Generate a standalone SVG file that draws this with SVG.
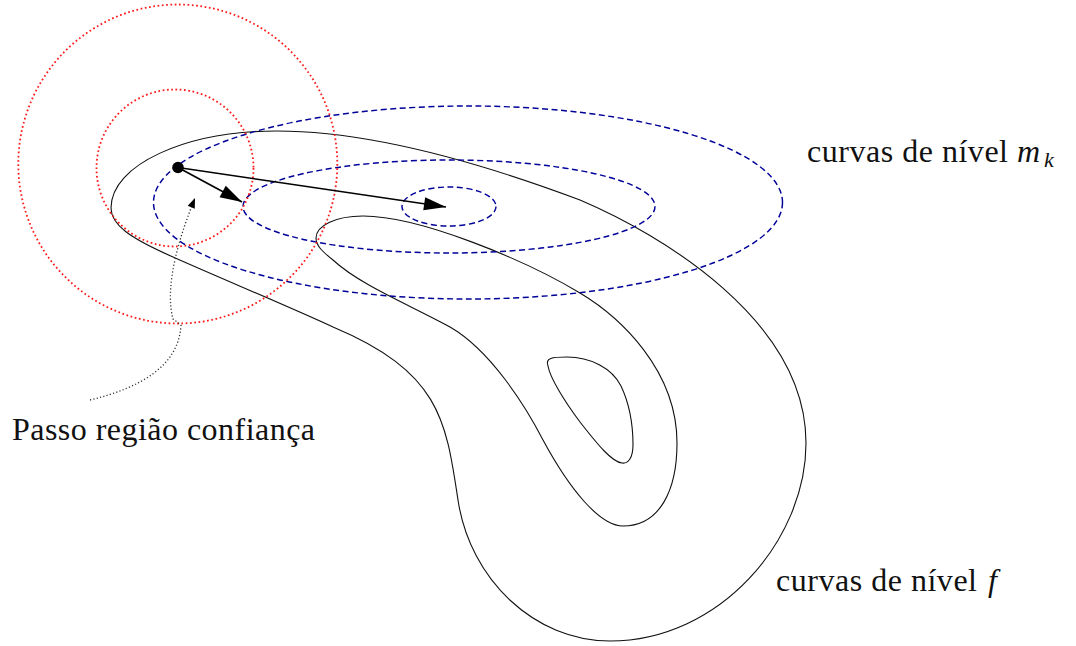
<svg xmlns="http://www.w3.org/2000/svg" width="1076" height="646" viewBox="0 0 1076 646">
  <style>
    .contour { fill: none; stroke: #111; stroke-width: 1.1; }
    .model { fill: none; stroke: #000099; stroke-width: 1.45; stroke-dasharray: 6 3.5; }
    .trust { fill: none; stroke: #ff1a1a; stroke-width: 1.8; stroke-dasharray: 1.7 2.6; }
    .step { fill: none; stroke: #000; stroke-width: 1.6; }
    .leader { fill: none; stroke: #333; stroke-width: 1.3; stroke-dasharray: 1.2 2.2; }
    .label { font-family: "Liberation Serif", "Times New Roman", serif; font-size: 32px; fill: #111; }
    .math { font-family: "Liberation Serif", "Times New Roman", serif; font-style: italic; fill: #111; }
  </style>
  <defs>
    <marker id="head" viewBox="-23 -7 24 14" refX="0" refY="0" markerWidth="24" markerHeight="14" orient="auto" markerUnits="userSpaceOnUse">
      <path d="M0,0 L-22,-6.5 L-22,6.5 Z" fill="#000"/>
    </marker>
    <marker id="smallhead" viewBox="-11 -5 12 10" refX="0" refY="0" markerWidth="12" markerHeight="10" orient="auto" markerUnits="userSpaceOnUse">
      <path d="M0,0 L-10,-3.8 L-10,3.8 Z" fill="#000"/>
    </marker>
  </defs>
  <rect x="0" y="0" width="1076" height="646" fill="#fff"/>

  <g id="contours-f">
    <path class="contour" d="M 111,208 C 111,165 185,131 277,131 C 380,131 500,170 580,200 C 660,234 806,320 806,443 C 806,540 720,641 610,641 C 535,641 470,580 458,500 C 446,420 440,372 333,327 C 290,307 220,278 173,257 C 130,238 111,225 111,208 Z"/>
    <path class="contour" d="M 316,238 C 316,226 335,216 363,216 C 420,216 525,260 580,293 C 620,317 677,370 677,443 C 677,490 660,526 623,526 C 600,526 570,490 543,440 C 525,405 490,350 450,327 C 410,305 360,285 333,260 C 323,252 316,246 316,238 Z"/>
    <path class="contour" d="M 548,366 C 545,358 552,357 567,357 C 590,357 612,368 621,386 C 630,405 633,425 633,445 C 633,458 628,464 622,463 C 612,462 598,445 580,422 C 565,402 550,378 548,366 Z"/>
  </g>

  <g id="contours-mk">
    <ellipse class="model" cx="468" cy="202.5" rx="314.5" ry="96.5"/>
    <ellipse class="model" cx="449" cy="206.5" rx="206" ry="46.5"/>
    <ellipse class="model" cx="449" cy="206.5" rx="47" ry="19.5"/>
  </g>

  <g id="trust-regions">
    <circle class="trust" cx="177.8" cy="164" r="159.5"/>
    <circle class="trust" cx="175" cy="168" r="78.5"/>
  </g>

  <g id="connectors">
    <path class="leader" d="M 90,400 C 140,388 179,366 181,325 L 173,319 C 164,285 180,235 195,198" marker-end="url(#smallhead)"/>
    <line class="step" x1="178" y1="167.5" x2="242" y2="202" marker-end="url(#head)"/>
    <line class="step" x1="178" y1="167.5" x2="446" y2="207" marker-end="url(#head)"/>
  </g>

  <g id="iterate">
    <circle cx="178" cy="167.5" r="5.8" fill="#000"/>
  </g>

  <g id="label-passo">
    <text class="label" x="12" y="440" textLength="303" lengthAdjust="spacing">Passo região confiança</text>
  </g>
  <g id="label-mk">
    <text class="label" x="807" y="162" textLength="201" lengthAdjust="spacing">curvas de nível</text>
    <text class="math" x="1017" y="162" font-size="32">m</text>
    <text class="math" x="1044" y="167" font-size="22">k</text>
  </g>
  <g id="label-f">
    <text class="label" x="776" y="591" textLength="201" lengthAdjust="spacing">curvas de nível</text>
    <text class="math" x="988" y="591" font-size="32">f</text>
  </g>
</svg>
